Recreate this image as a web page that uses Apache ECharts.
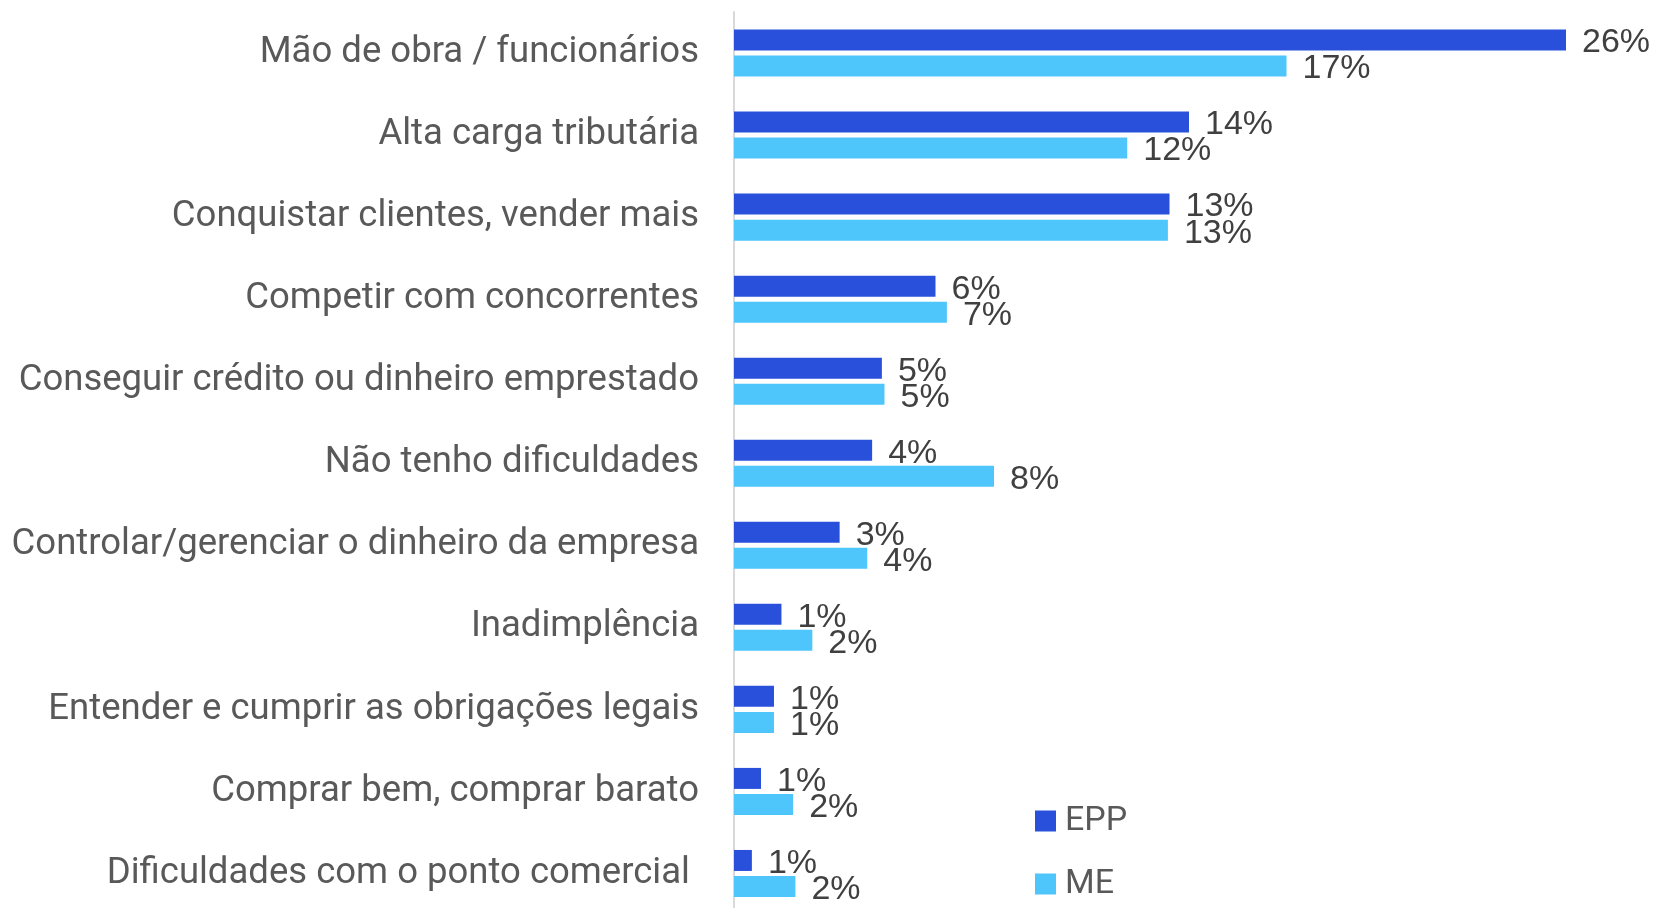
<!DOCTYPE html>
<html>
<head>
<meta charset="utf-8">
<script src="https://cdn.jsdelivr.net/npm/echarts@6/dist/echarts.min.js"></script>
<style>
html,body{margin:0;padding:0;background:#fff;}
#chart{width:1657px;height:908px;}
</style>
</head>
<body>
<div id="chart"></div>
<script>
const categories = [
  'Mão de obra / funcionários',
  'Alta carga tributária',
  'Conquistar clientes, vender mais',
  'Competir com concorrentes',
  'Conseguir crédito ou dinheiro emprestado',
  'Não tenho dificuldades',
  'Controlar/gerenciar o dinheiro da empresa',
  'Inadimplência',
  'Entender e cumprir as obrigações legais',
  'Comprar bem, comprar barato',
  'Dificuldades com o ponto comercial '
];
const seriesNames = ['EPP', 'ME'];
const eppValues = [25.6, 14.0, 13.4, 6.2, 4.55, 4.25, 3.25, 1.46, 1.23, 0.83, 0.55];
const meValues  = [17.0, 12.1, 13.35, 6.55, 4.63, 8.0, 4.1, 2.41, 1.23, 1.82, 1.89];

const chart = echarts.init(document.getElementById('chart'), null, {renderer: 'canvas'});
const labelCfg = {
  show: true,
  position: 'right',
  distance: 16,
  offset: [0, 3],
  color: '#404040',
  fontFamily: 'Liberation Sans, Arial, sans-serif',
  fontSize: 34,
  formatter: p => Math.round(p.value) + '%'
};
chart.setOption({
  animation: false,
  backgroundColor: '#ffffff',
  grid: {left: 734, top: 12, width: 910, height: 902.5, containLabel: false, outerBoundsMode: 'none'},
  xAxis: {
    type: 'value', min: 0, max: 28,
    show: false
  },
  yAxis: {
    type: 'category',
    inverse: true,
    data: categories,
    axisLine: {show: true, lineStyle: {color: '#d9d9d9', width: 2}},
    axisTick: {show: false},
    axisLabel: {
      margin: 35,
      color: '#595959',
      fontFamily: 'Roboto, sans-serif',
      fontSize: 36.5,
      padding: [4, 0, 0, 0]
    }
  },
  legend: {
    orient: 'vertical',
    left: 1035,
    top: 804,
    height: 300,
    padding: 0,
    itemWidth: 21,
    itemHeight: 21,
    itemGap: 29,
    icon: 'rect',
    textStyle: {color: '#595959', fontFamily: 'Roboto, sans-serif', fontSize: 34, lineHeight: 21, padding: [0,0,0,4]},
    data: seriesNames
  },
  series: [
    {name: seriesNames[0], type: 'bar', data: eppValues, barWidth: 21, barGap: '24%',
     itemStyle: {color: '#2950DA'}, label: labelCfg},
    {name: seriesNames[1], type: 'bar', data: meValues, barWidth: 21, barGap: '24%',
     itemStyle: {color: '#4EC5FB'}, label: labelCfg}
  ]
});
</script>
</body>
</html>
